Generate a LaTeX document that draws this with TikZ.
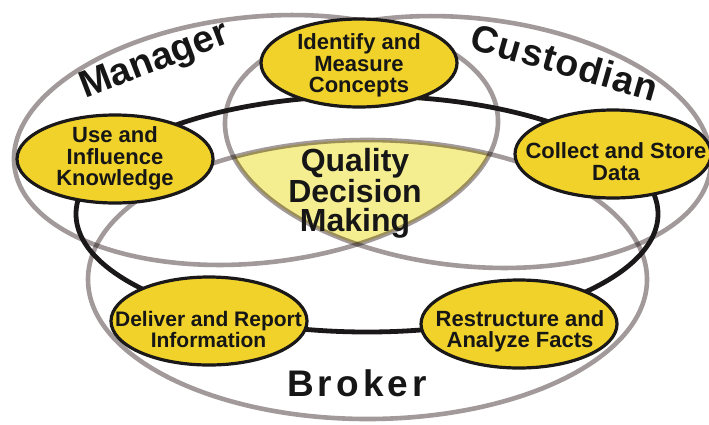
\documentclass[tikz,border=0pt]{standalone}
\usepackage{fontspec}
\setmainfont{Liberation Sans}
\usetikzlibrary{shapes.geometric}

\definecolor{rolegray}{RGB}{162,154,154}
\definecolor{ringblack}{RGB}{26,24,24}
\definecolor{taskyellow}{RGB}{240,210,42}
\definecolor{coreyellow}{RGB}{245,238,145}
\definecolor{ink}{RGB}{22,22,22}

\tikzset{
  roleloop/.style={ellipse, draw=rolegray, line width=4.6pt, inner sep=0pt},
  cycleloop/.style={ellipse, draw=ringblack, line width=4.8pt, inner sep=0pt},
  task/.style={ellipse, draw=ringblack, line width=3.2pt, fill=taskyellow,
    minimum width=196pt, minimum height=88pt, inner sep=0pt},
  tasktext/.style={align=center, text=ink, inner sep=0pt,
    font=\bfseries\fontsize{22}{21.5}\selectfont},
  rolelabel/.style={text=ink, inner sep=0pt,
    font=\bfseries\fontsize{38}{38}\selectfont},
}

\begin{document}
\begin{tikzpicture}[x=1pt,y=-1pt]
\useasboundingbox (0,0) rectangle (709,424);

% shared core of the three roles
\begin{scope}
  \clip[rotate around={6:(256,140)}] (256,140) ellipse [x radius=243pt, y radius=123pt];
  \clip[rotate around={-6:(468,142)}] (468,142) ellipse [x radius=244pt, y radius=124pt];
  \fill[coreyellow] (367.5,279.5) ellipse [x radius=279.5pt, y radius=139.5pt];
\end{scope}

% the three role loops
\begin{scope}[blend mode=multiply]
  \node[roleloop, minimum width=486pt, minimum height=246pt, rotate=6] (manager) at (256,140) {};
  \node[roleloop, minimum width=488pt, minimum height=248pt, rotate=-6] (custodian) at (468,142) {};
  \node[roleloop, minimum width=559pt, minimum height=279pt] (broker) at (367.5,279.5) {};
\end{scope}

% the decision cycle
\node[cycleloop, minimum width=582pt, minimum height=236pt] (cycle) at (367,214) {};

% cycle steps
\node[task] (identify) at (359,63) {};
\node[task] (use) at (115,159) {};
\node[task] (collect) at (613,154) {};
\node[task] (deliver) at (209,321) {};
\node[task] (restructure) at (519,324) {};

\node[tasktext] (identify-text) at (359,65.5) {Identify and\\Measure\\Concepts};
\node[tasktext] (use-text) at (115,158.5) {Use and\\Influence\\Knowledge};
\node[tasktext] (collect-text) at (616,161.8) {Collect and Store\\Data};
\node[tasktext, font=\bfseries\fontsize{21}{21.5}\selectfont] (deliver-text) at (208.5,329.5) {Deliver and Report\\Information};
\node[tasktext] (restructure-text) at (520,331.5) {Restructure and\\Analyze Facts};

% centre
\node[align=center, text=ink, inner sep=0pt, font=\bfseries\fontsize{32}{29}\selectfont] (quality) at (355,193) {Quality\\Decision\\Making};

% role names
\node[rolelabel, rotate=21] (manager-label) at (155,62) {Manager};
\node[rolelabel, rotate=-16, font=\bfseries\fontsize{37.5}{37.5}\selectfont\addfontfeatures{LetterSpace=3}] (custodian-label) at (565,62) {Custodian};
\node[rolelabel, font=\bfseries\fontsize{37}{37}\selectfont\addfontfeatures{LetterSpace=11}] (broker-label) at (357,383.5) {Broker};

\end{tikzpicture}
\end{document}
